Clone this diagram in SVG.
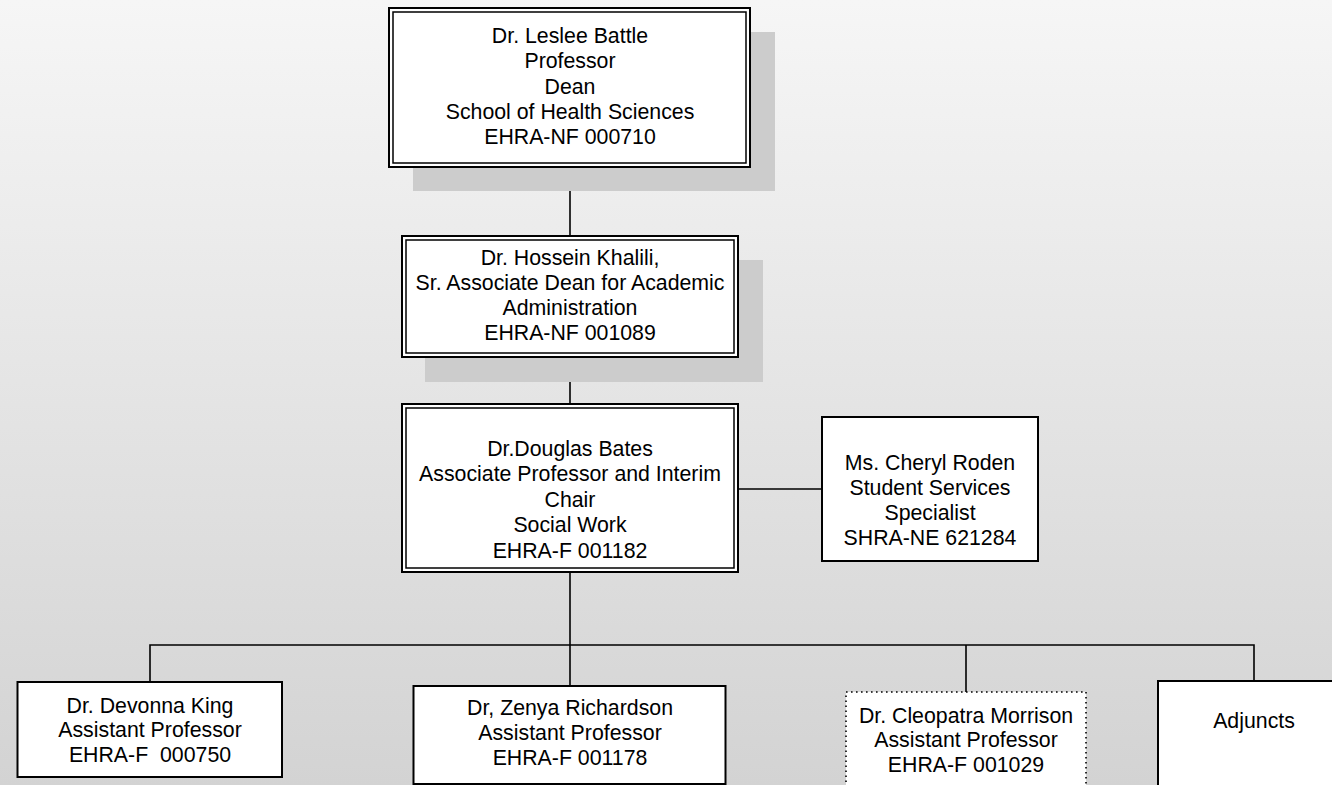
<svg xmlns="http://www.w3.org/2000/svg" width="1332" height="785" viewBox="0 0 1332 785">
<defs>
<linearGradient id="bg" x1="0" y1="0" x2="0" y2="1">
<stop offset="0" stop-color="#f6f6f6"/>
<stop offset="1" stop-color="#d3d3d3"/>
</linearGradient>
<style>
.box{fill:#ffffff;stroke:#000000;stroke-width:2}
.inner{fill:none;stroke:#000000;stroke-width:1.5}
.shadow{fill:#cccccc}
.dot{fill:#ffffff;stroke:#000000;stroke-width:1.6;stroke-dasharray:1.6 3.4}
.conn{stroke:#000000;stroke-width:1.6;fill:none}
text{font-family:"Liberation Sans",Arial,sans-serif;font-size:21.3px;fill:#000000;text-anchor:middle}
</style>
</defs>
<rect x="0" y="0" width="1332" height="785" fill="url(#bg)"/>
<g id="connectors">
<line class="conn" x1="570" y1="167" x2="570" y2="236"/>
<line class="conn" x1="570" y1="357" x2="570" y2="404"/>
<line class="conn" x1="570" y1="572" x2="570" y2="645" stroke-width="2.2"/>
<line class="conn" x1="738" y1="489" x2="822" y2="489"/>
<polyline class="conn" points="150,682 150,645 1254,645 1254,681"/>
<line class="conn" x1="570" y1="645" x2="570" y2="686"/>
<line class="conn" x1="966" y1="645" x2="966" y2="692"/>
</g>
<g id="dean">
<rect class="shadow" x="413" y="32" width="362" height="159"/>
<rect class="box" x="389" y="8" width="361" height="159"/>
<rect class="inner" x="393" y="12" width="353" height="151"/>
<text x="570" y="43">Dr. Leslee Battle</text>
<text x="570" y="68">Professor</text>
<text x="570" y="94">Dean</text>
<text x="570" y="119">School of Health Sciences</text>
<text x="570" y="144">EHRA-NF 000710</text>
</g>
<g id="assocdean">
<rect class="shadow" x="425" y="260" width="338" height="122"/>
<rect class="box" x="402" y="236" width="336" height="121"/>
<rect class="inner" x="406" y="240" width="328" height="113"/>
<text x="570" y="265">Dr. Hossein Khalili,</text>
<text x="570" y="290">Sr. Associate Dean for Academic</text>
<text x="570" y="315">Administration</text>
<text x="570" y="340">EHRA-NF 001089</text>
</g>
<g id="chair">
<rect class="box" x="402" y="404" width="336" height="168"/>
<rect class="inner" x="406" y="408" width="328" height="160"/>
<text x="570" y="456">Dr.Douglas Bates</text>
<text x="570" y="481">Associate Professor and Interim</text>
<text x="570" y="507">Chair</text>
<text x="570" y="532">Social Work</text>
<text x="570" y="558">EHRA-F 001182</text>
</g>
<g id="roden">
<rect class="box" x="822" y="417" width="216" height="144"/>
<text x="930" y="470">Ms. Cheryl Roden</text>
<text x="930" y="495">Student Services</text>
<text x="930" y="520">Specialist</text>
<text x="930" y="545">SHRA-NE 621284</text>
</g>
<g id="king">
<rect class="box" x="17.5" y="682" width="264.5" height="95"/>
<text x="150" y="713">Dr. Devonna King</text>
<text x="150" y="737" xml:space="preserve">Assistant Professor</text>
<text x="150" y="762" xml:space="preserve">EHRA-F  000750</text>
</g>
<g id="richardson">
<rect class="box" x="413.5" y="686" width="312" height="98"/>
<text x="570" y="715">Dr, Zenya Richardson</text>
<text x="570" y="740">Assistant Professor</text>
<text x="570" y="765">EHRA-F 001178</text>
</g>
<g id="morrison">
<rect class="dot" x="846" y="692" width="240" height="100"/>
<text x="966" y="723">Dr. Cleopatra Morrison</text>
<text x="966" y="747">Assistant Professor</text>
<text x="966" y="772">EHRA-F 001029</text>
</g>
<g id="adjuncts">
<rect class="box" x="1158" y="681" width="192" height="110"/>
<text x="1254" y="728">Adjuncts</text>
</g>
</svg>
